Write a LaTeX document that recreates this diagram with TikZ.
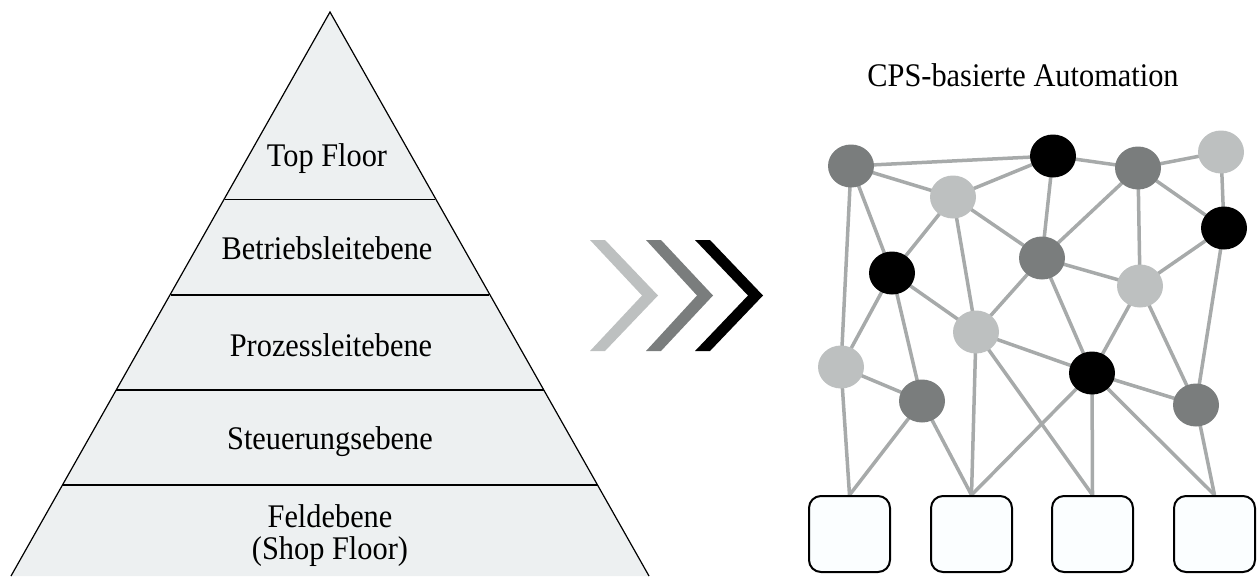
\documentclass[tikz,border=0pt]{standalone}
\usepackage{fontspec}
\setmainfont{Liberation Serif}
\usetikzlibrary{shapes.geometric,backgrounds}
\definecolor{pyrfill}{HTML}{EDF0F1}
\definecolor{dgray}{HTML}{7A7D7D}
\definecolor{lgray}{HTML}{BDC0C0}
\definecolor{edgegray}{HTML}{A7AAAA}
\definecolor{boxfill}{HTML}{FBFEFF}
\newcommand\narrowtxt[1]{\scalebox{0.92}[1]{#1}}
\tikzset{
  lbl/.style={font=\fontsize{33}{33}\selectfont, inner sep=0pt, anchor=base},
  layerline/.style={line width=1.8pt},
  cpsnode/.style={ellipse, minimum width=46pt, minimum height=43pt, inner sep=0pt, draw=none},
  dnode/.style={cpsnode, fill=dgray},
  lnode/.style={cpsnode, fill=lgray},
  bnode/.style={cpsnode, fill=black},
  devbox/.style={rectangle, rounded corners=12pt, minimum width=81pt, minimum height=76pt, draw=black, line width=2pt, fill=boxfill, inner sep=0pt},
  link/.style={draw=edgegray, line width=3.5pt},
}
\begin{document}
\begin{tikzpicture}[x=1pt,y=-1pt]
\useasboundingbox (0,0) rectangle (1257,576);
% pyramid
\coordinate (apex) at (330,12);
\coordinate (bl) at (11,576);
\coordinate (br) at (649,576);
\fill[pyrfill] (apex) -- (bl) -- (br) -- cycle;
\draw[layerline] (224.6,199.5) -- (435.4,199.5);
\draw[layerline] (171.3,295) -- (488.7,295);
\draw[layerline] (116.0,390) -- (544.0,390);
\draw[layerline] (62.3,485) -- (597.7,485);
\draw[line width=1.2pt] (bl) -- (apex) -- (br);
\node[lbl] (top) at (327,166) {\narrowtxt{Top Floor}};
\node[lbl] (betr) at (327,259) {\narrowtxt{Betriebsleitebene}};
\node[lbl] (proz) at (331,356) {\narrowtxt{Prozessleitebene}};
\node[lbl] (steu) at (330,449) {\narrowtxt{Steuerungsebene}};
\node[font=\fontsize{33}{32}\selectfont, inner sep=0pt, align=center] (feld) at (330,536) {\narrowtxt{Feldebene}\\\narrowtxt{(Shop Floor)}};
% chevrons
\fill[lgray] (590,240) -- (605,240) -- (658,295.5) -- (605,351) -- (590,351) -- (642,295.5) -- cycle;
\fill[dgray] (646,240) -- (661,240) -- (713,295.5) -- (661,351) -- (646,351) -- (697,295.5) -- cycle;
\fill[black] (695,240) -- (710,240) -- (763,295.5) -- (710,351) -- (695,351) -- (748,295.5) -- cycle;
% title
\node[lbl] (title) at (1023,86) {\narrowtxt{CPS-basierte Automation}};
% network nodes
\node[dnode] (A) at (851,166) {};
\node[bnode] (B) at (1053,156) {};
\node[dnode] (C) at (1138,168) {};
\node[lnode] (D) at (1221,152) {};
\node[lnode] (E) at (953,197) {};
\node[bnode] (F) at (1224,228) {};
\node[bnode] (G) at (892,273) {};
\node[dnode] (H) at (1042,258) {};
\node[lnode] (I) at (1140,286) {};
\node[lnode] (J) at (976,332) {};
\node[lnode] (K) at (841,367) {};
\node[dnode] (L) at (922,401) {};
\node[bnode] (M) at (1092,373) {};
\node[dnode] (N) at (1196,405) {};
% devices
\node[devbox] (d1) at (849.5,534) {};
\node[devbox] (d2) at (971.5,534) {};
\node[devbox] (d3) at (1092.5,534) {};
\node[devbox] (d4) at (1214.5,534) {};
% links
\begin{scope}[on background layer]
\foreach \u/\v in {A/B,A/E,A/G,A/K,E/B,E/G,E/H,E/J,B/H,B/C,C/D,C/H,C/I,C/F,D/F,F/I,F/N,G/J,G/K,G/L,H/J,H/I,H/M,I/M,I/N,J/M,K/L,M/N}
  \draw[link] (\u.center) -- (\v.center);
\foreach \u/\v in {K/d1,L/d1,L/d2,J/d2,M/d2,J/d3,M/d3,M/d4,N/d4}
  \draw[link] (\u.center) -- (\v.north);
\end{scope}
\end{tikzpicture}
\end{document}
